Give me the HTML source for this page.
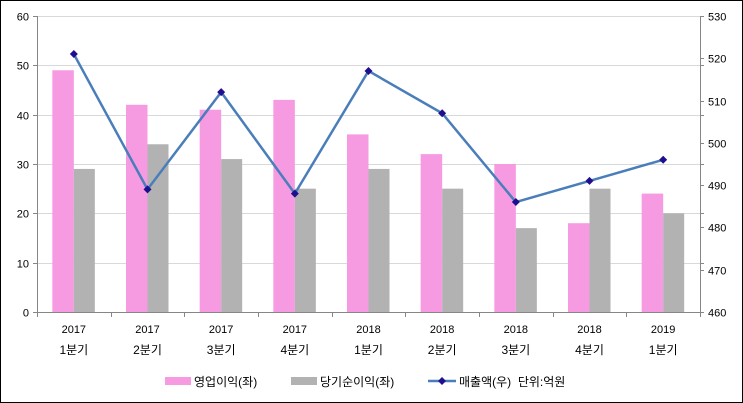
<!DOCTYPE html>
<html><head><meta charset="utf-8"><style>
html,body{margin:0;padding:0;background:#fff}
svg{display:block}
text{font-family:"Liberation Sans","Noto Sans CJK KR",sans-serif;font-size:11px;fill:#000}
.lg{font-size:12px}
</style></head><body>
<svg width="743" height="403" viewBox="0 0 743 403">
<rect x="0.5" y="0.5" width="742" height="402" fill="#fff" stroke="#000"/>
<g stroke="#d9d9d9" stroke-width="1">
<line x1="37" x2="700" y1="16.5" y2="16.5"/>
<line x1="37" x2="700" y1="65.5" y2="65.5"/>
<line x1="37" x2="700" y1="115.5" y2="115.5"/>
<line x1="37" x2="700" y1="164.5" y2="164.5"/>
<line x1="37" x2="700" y1="213.5" y2="213.5"/>
<line x1="37" x2="700" y1="263.5" y2="263.5"/>
</g>
<g id="bars"></g>
<g stroke="#868686" stroke-width="1" fill="none">
<line x1="37.5" x2="37.5" y1="16" y2="312"/>
<line x1="700.5" x2="700.5" y1="16" y2="312"/>
<line x1="37" x2="700" y1="312.5" y2="312.5"/>
</g>
<g id="ticks" stroke="#868686"></g>
<g id="labels"></g>
<polyline id="line" fill="none" stroke="#4a7ebb" stroke-width="2.5"/>
<g id="markers" fill="#1f0f8f"></g>
<g class="lg">
<rect x="165" y="377" width="26" height="8" fill="#f69ae2"/>
<text class="lg" x="194" y="386">영업이익(좌)</text>
<rect x="291" y="377" width="26" height="8" fill="#b2b2b2"/>
<text class="lg" x="320" y="386">당기순이익(좌)</text>
<line x1="428" x2="456" y1="381" y2="381" stroke="#4a7ebb" stroke-width="2.5"/>
<path d="M442 377l4 4-4 4-4-4z" fill="#1f0f8f"/>
<text class="lg" x="459" y="386" xml:space="preserve">매출액(우)  단위:억원</text>
</g>
</svg>
<script>
const ns="http://www.w3.org/2000/svg";
function el(t,a,p,txt){const e=document.createElementNS(ns,t);for(const k in a)e.setAttribute(k,a[k]);if(txt!=null)e.textContent=txt;document.getElementById(p).appendChild(e);return e;}
const pink=[49,42,41,43,36,32,30,18,24],gray=[29,34,31,25,29,25,17,25,20],rev=[521,489,512,488,517,507,486,491,496];
const yrs=["2017","2017","2017","2017","2018","2018","2018","2018","2019"],q=["1분기","2분기","3분기","4분기","1분기","2분기","3분기","4분기","1분기"];
const w=663/9,yl=v=>312-v*296/60,yr=v=>312-(v-460)*296/70;
let pts=[];
for(let i=0;i<9;i++){const c=37+w*(i+0.5);
el("rect",{x:c-21.5,y:yl(pink[i]),width:21.5,height:312-yl(pink[i]),fill:"#f69ae2"},"bars");
el("rect",{x:c,y:yl(gray[i]),width:21,height:312-yl(gray[i]),fill:"#b2b2b2"},"bars");
el("text",{x:c,y:333,"text-anchor":"middle"},"labels",yrs[i]);
el("text",{x:c,y:354,"text-anchor":"middle",style:"font-size:12px"},"labels",q[i]);
const y=yr(rev[i]);pts.push(c+","+y);
el("path",{d:`M${c} ${y-4}l4 4-4 4-4-4z`},"markers");}
for(let i=0;i<=9;i++){const x=Math.round(37+w*i)+0.5;el("line",{x1:x,x2:x,y1:312,y2:317},"ticks");}
for(let k=0;k<=6;k++){const y=Math.round(yl(k*10))+0.5;
el("line",{x1:33,x2:37,y1:y,y2:y},"ticks");el("line",{x1:700,x2:704,y1:y,y2:y},"ticks");
el("text",{x:29,y:y+4,"text-anchor":"end"},"labels",String(k*10));}
for(let k=0;k<=7;k++){const y=Math.round(yr(460+k*10))+0.5;
el("line",{x1:700,x2:704,y1:y,y2:y},"ticks");
el("text",{x:708,y:y+4},"labels",String(460+k*10));}
document.getElementById("line").setAttribute("points",pts.join(" "));
</script>
</body></html>
